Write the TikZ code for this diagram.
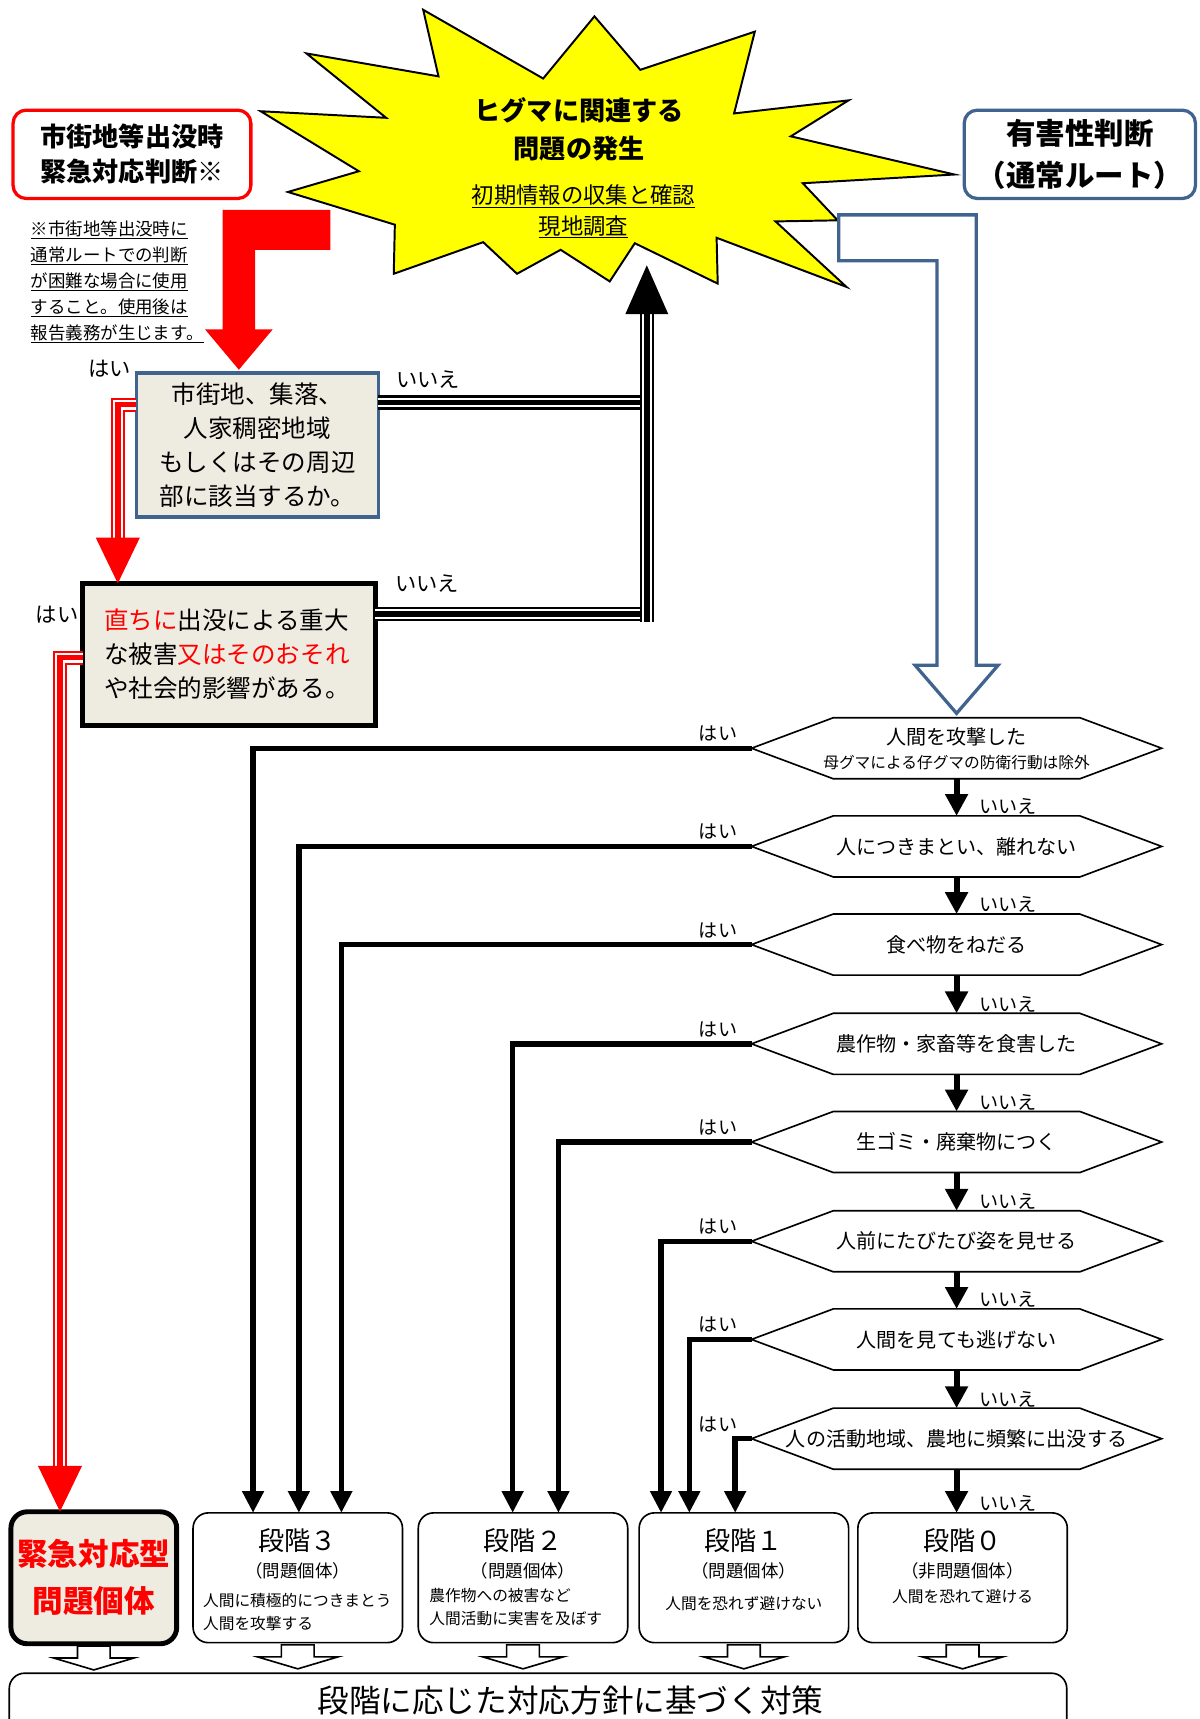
\documentclass[tikz,border=0pt]{standalone}
\usepackage{fontspec}
\setmainfont{Noto Sans CJK JP}
\usetikzlibrary{arrows.meta, positioning, calc}
\definecolor{beige}{HTML}{EEECE1}
\definecolor{routeblue}{HTML}{41648F}
\definecolor{alarmred}{HTML}{FF0000}
\definecolor{staryellow}{HTML}{FFFF00}

\tikzset{
  urbanbox/.style={draw=alarmred, line width=3pt, rounded corners=12pt, minimum width=218pt, minimum height=81pt, inner sep=0pt, outer sep=0pt, align=center, font=\fontsize{24}{32}\selectfont\bfseries},
  routebox/.style={draw=routeblue, line width=3pt, rounded corners=12pt, minimum width=212pt, minimum height=81pt, inner sep=0pt, outer sep=0pt, align=center, font=\fontsize{27}{38}\selectfont\bfseries},
  startitle/.style={inner sep=0pt, align=center, font=\fontsize{24}{35}\selectfont\bfseries},
  starsub/.style={inner sep=0pt, align=center, font=\fontsize{20.5}{28}\selectfont},
  note/.style={inner sep=0pt, align=left, font=\fontsize{16}{23.8}\selectfont},
  judgebox/.style={fill=beige, inner sep=0pt, outer sep=0pt, font=\fontsize{22.5}{31}\selectfont},
  question/.style={minimum width=376pt, minimum height=56pt, inner sep=0pt, outer sep=0pt, align=center, font=\fontsize{18.4}{22}\selectfont},
  hexline/.style={draw=black, line width=1.5pt},
  yeslbl/.style={inner sep=1pt, font=\fontsize{19.5}{20}\selectfont},
  qlbl/.style={inner sep=1pt, font=\fontsize{17.5}{18}\selectfont},
  yesline/.style={draw=black, line width=5pt, -{Triangle[width=19pt,length=20pt]}},
  noline/.style={draw=black, line width=5.5pt, -{Triangle[width=20pt,length=20pt]}},
  stagebox/.style={draw=black, line width=1.5pt, rounded corners=14pt, minimum width=192pt, minimum height=119pt, inner sep=0pt, outer sep=0pt},
  kinkyubox/.style={draw=black, line width=4.5pt, rounded corners=15pt, fill=beige, minimum width=152pt, minimum height=121pt, inner sep=0pt, outer sep=0pt, align=center, text=alarmred, font=\fontsize{28}{43}\selectfont\bfseries},
  stagetitle/.style={inner sep=0pt, font=\fontsize{24}{26}\selectfont},
  stagesub/.style={inner sep=0pt, font=\fontsize{16}{18}\selectfont},
  stagedesc/.style={inner sep=0pt, align=left, font=\fontsize{14.4}{21}\selectfont},
  hollow/.style={draw=black, line width=1.5pt, fill=white},
  blueblock/.style={draw=routeblue, line width=3pt, fill=white},
  starshape/.style={fill=staryellow, draw=black, line width=1.8pt},
  redline/.style={draw=alarmred, line width=5pt, -{Triangle[width=39pt,length=42pt]},
    preaction={draw=alarmred, line width=13pt, -, shorten >=41pt},
    preaction={draw=white, line width=9pt, -, shorten >=41pt}},
  blackline/.style={draw=black, line width=5pt,
    preaction={draw=black, line width=13pt},
    preaction={draw=white, line width=9pt}},
  blackup/.style={draw=black, line width=5pt, -{Triangle[width=38pt,length=45pt]},
    preaction={draw=black, line width=13pt, -, shorten >=44pt},
    preaction={draw=white, line width=9pt, -, shorten >=44pt}},
}

\begin{document}
\begin{tikzpicture}[x=1pt, y=-1pt]
  \useasboundingbox (0,0) rectangle (1100,1576);

  % ===== Occurrence =====
  \draw[starshape] (281,49) -- (402,70) -- (388,9) -- (498,72) -- (545,15) -- (587,64)
    -- (692,29) -- (673,104) -- (778,92) -- (725,125) -- (875,160) -- (736,168)
    -- (768,202) -- (711,203) -- (776,263) -- (657,218) -- (658,260) -- (582,223)
    -- (559,258) -- (514,229) -- (474,251) -- (443,222) -- (361,251) -- (362,206)
    -- (264,176) -- (329,157) -- (239,102) -- (354,108) -- cycle;
  \node[startitle] (hassei) at (531,118.5) {ヒグマに関連する\\問題の発生};
  \node[starsub] (chosa) at (535,194) {\underline{初期情報の収集と確認}\\\underline{現地調査}};

  % ===== Side boxes =====
  \node[urbanbox] (urban) at (121,141.5) {市街地等出没時\\緊急対応判断※};
  \node[routebox] (route) at (990,141.5) {有害性判断\\（通常ルート）};
  \node[note, anchor=west] (chui) at (28,258.5) {\underline{※市街地等出没時に}\\\underline{通常ルートでの判断}\\\underline{が困難な場合に使用}\\\underline{すること。使用後は}\\\underline{報告義務が生じます。}};

  % Red block arrow
  \coordinate (redtip) at (219,339);
  \fill[alarmred] (redtip) -- ++(31,-37) -- ++(-16,0) -- ++(0,-73) -- ++(69,0) -- ++(0,-36.5)
    -- ++(-99,0) -- ++(0,109.5) -- ++(-16,0) -- cycle;

  % ===== Emergency judgement =====
  \node[judgebox, draw=routeblue, line width=3pt, minimum width=222pt, minimum height=132pt, align=center] (judge1) at (236,408)
    {市街地、集落、\\人家稠密地域\\もしくはその周辺\\部に該当するか。};
  \node[judgebox, draw=black, line width=4.5pt, text width=229pt, inner xsep=19.5pt, minimum height=130pt, align=left] (judge2) at (210,600)
    {\textcolor{alarmred}{直ちに}出没による重大\\な被害\textcolor{alarmred}{又はそのおそれ}\\や社会的影響がある。};
  \node[yeslbl, anchor=east] (hai-a) at ([xshift=-4pt,yshift=4pt]judge1.north west) {はい};
  \node[yeslbl, anchor=west] (iie-a) at ([xshift=15pt,yshift=-6pt]judge1.north east) {いいえ};
  \node[yeslbl, anchor=east] (hai-b) at ([xshift=-3pt,yshift=-29pt]judge2.north west) {はい};
  \node[yeslbl, anchor=west] (iie-b) at ([xshift=17pt]judge2.north east) {いいえ};

  % ===== Stages =====
  \node[kinkyubox] (kinkyu) at (86,1446.5) {緊急対応型\\問題個体};
  \node[stagebox, right=15pt of kinkyu] (dan3) {};
  \node[stagebox, right=14.5pt of dan3] (dan2) {};
  \node[stagebox, right=10.5pt of dan2] (dan1) {};
  \node[stagebox, right=8.5pt of dan1] (dan0) {};
  \foreach \b/\t/\s in {dan3/段階３/（問題個体）, dan2/段階２/（問題個体）, dan1/段階１/（問題個体）, dan0/段階０/（非問題個体）} {
    \node[stagetitle] (\b-t) at ([yshift=-25pt]\b.north) {\t};
    \node[stagesub] (\b-s) at ([yshift=-53pt]\b.north) {\s};
  }
  \node[stagedesc, anchor=west] (dan3-d) at ([xshift=9pt,yshift=-91pt]dan3.north west) {人間に積極的につきまとう\\人間を攻撃する};
  \node[stagedesc, anchor=west] (dan2-d) at ([xshift=10pt,yshift=-86pt]dan2.north west) {農作物への被害など\\人間活動に実害を及ぼす};
  \node[stagedesc] (dan1-d) at ([yshift=-83pt]dan1.north) {人間を恐れず避けない};
  \node[stagedesc] (dan0-d) at ([yshift=-77pt]dan0.north) {人間を恐れて避ける};

  % Hollow arrows to measures
  \foreach \b in {kinkyu,dan3,dan2,dan1,dan0} {
    \draw[hollow] ([xshift=-15pt,yshift=-2pt]\b.south) -- ++(0,11) -- ++(-22,0) -- ++(37,11)
      -- ++(37,-11) -- ++(-22,0) -- ++(0,-11) -- cycle;
  }
  \node[inner sep=0pt, font=\fontsize{29}{30}\selectfont] (taisaku) at (523,1559) {段階に応じた対応方針に基づく対策};
  \draw[line width=1.5pt, rounded corners=14pt] (8.5,1576) -- (8.5,1534) -- (978,1534) -- (978,1576);

  % ===== Harm judgement (normal route) =====
  \foreach \i/\qy/\qtext in {
      1/686/{{\fontsize{18.4}{22}\selectfont 人間を攻撃した}\\{\fontsize{14.4}{16}\selectfont 母グマによる仔グマの防衛行動は除外}},
      2/776/{人につきまとい、離れない},
      3/866/{食べ物をねだる},
      4/957/{農作物・家畜等を食害した},
      5/1047/{生ゴミ・廃棄物につく},
      6/1138/{人前にたびたび姿を見せる},
      7/1228/{人間を見ても逃げない},
      8/1319/{人の活動地域、農地に頻繁に出没する}} {
    \node[question] (q\i) at (877,\qy) {\qtext};
  }
  \foreach \i in {1,...,8} {
    \draw[hexline] (q\i.west) -- ([xshift=75pt]q\i.north west) -- ([xshift=-75pt]q\i.north east)
      -- (q\i.east) -- ([xshift=-75pt]q\i.south east) -- ([xshift=75pt]q\i.south west) -- cycle;
  }

  % yes branches
  \foreach \i/\xx/\b in {1/232/dan3, 2/274/dan3, 3/313/dan3, 4/470/dan2, 5/512/dan2, 6/606/dan1, 7/632/dan1, 8/674/dan1} {
    \node[qlbl, anchor=south east] (hai\i) at ([xshift=-12pt,yshift=5pt]q\i.west) {はい};
    \draw[yesline] (q\i.west) -| (\xx,0 |- \b.north);
  }
  % no branches
  \foreach \i/\j in {1/2,2/3,3/4,4/5,5/6,6/7,7/8} {
    \draw[noline] (q\i.south) -- (q\j.north);
    \node[qlbl, anchor=south west] (iie\j) at ([xshift=20pt]q\j.north) {いいえ};
  }
  \coordinate (d0top) at (q8.south |- dan0.north);
  \draw[noline] (q8.south) -- (d0top);
  \node[qlbl, anchor=south west] (iie0) at ([xshift=20pt]d0top) {いいえ};

  % Blue block arrow
  \coordinate (bluetip) at ([yshift=4pt]q1.north);
  \draw[blueblock] (bluetip) -- ++(38,-44) -- ++(-20,0) -- ++(0,-413) -- ++(-126,0) -- ++(0,42)
    -- ++(90,0) -- ++(0,371) -- ++(-20,0) -- cycle;

  % ===== Connectors of the emergency route =====
  \draw[redline] ([yshift=-29pt]judge1.north west) -| (108,0 |- judge2.north);
  \draw[redline] ([yshift=-68pt]judge2.north west) -| (55,0 |- kinkyu.north);
  \coordinate (startip) at (593,243);
  \coordinate (joinbot) at (593,570);
  \coordinate (na) at ([yshift=-27pt]judge1.north east);
  \coordinate (nb) at ([yshift=-28pt]judge2.north east);
  \draw[blackline] (na) -- (na -| joinbot);
  \draw[blackline] (nb) -- (nb -| joinbot);
  \draw[blackup] (joinbot) -- (startip);
\end{tikzpicture}
\end{document}
